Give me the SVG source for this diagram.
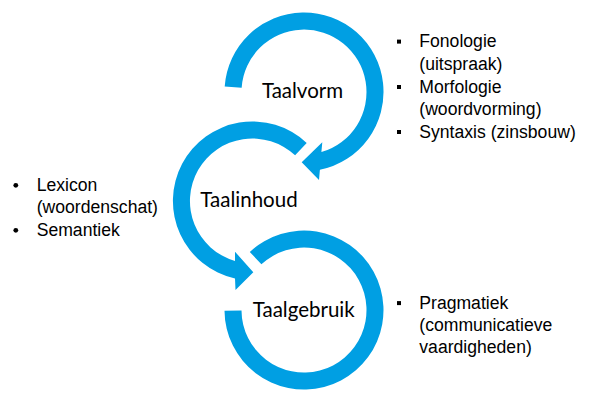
<svg xmlns="http://www.w3.org/2000/svg" width="594" height="403" viewBox="0 0 594 403">
<style>
.arc{fill:#009FE3;stroke:none}
.lbl{font-family:Lato,"Open Sans",sans-serif;font-size:20.5px;fill:#000;text-anchor:middle}
.txt{font-family:"Liberation Sans",Arial,sans-serif;font-size:17.6px;fill:#000}
.sq{fill:#000}
</style>
<rect width="594" height="403" fill="#fff"/>
<g id="taalvorm">
<path class="arc" d="M224.7,86.5 A79.5,79.5 0 1 1 319.9,169.8 L319,180 L301.7,162.3 L322.3,142.3 L321.4,152.1 A62.5,62.5 0 1 0 241.65,87.64 Z"/>
<text class="lbl" x="302.5" y="98.3">Taalvorm</text>
</g>
<g id="taalinhoud">
<path class="arc" d="M306.7,142.9 A79.5,79.5 0 1 0 235,278.55 L235.5,290 L253.3,272.3 L235,251.7 L235,261 A62.5,62.5 0 1 1 295.1,155.3 Z"/>
<text class="lbl" x="249" y="207.3">Taalinhoud</text>
</g>
<g id="taalgebruik">
<path class="arc" d="M249.8,251.9 A79.5,79.5 0 1 1 224.5,310.8 L241.5,310.6 A62.5,62.5 0 1 0 261.4,264.3 Z"/>
<text class="lbl" x="303.7" y="316.7">Taalgebruik</text>
</g>
<g id="list-vorm">
<rect class="sq" x="397" y="39.6" width="4" height="4"/>
<rect class="sq" x="397" y="85" width="4" height="4"/>
<rect class="sq" x="397" y="130" width="4" height="4"/>
<text class="txt" x="419.3" y="47.3">Fonologie</text>
<text class="txt" x="419.3" y="69.8">(uitspraak)</text>
<text class="txt" x="419.3" y="92.7">Morfologie</text>
<text class="txt" x="419.3" y="115">(woordvorming)</text>
<text class="txt" x="419.3" y="137.7">Syntaxis (zinsbouw)</text>
</g>
<g id="list-inhoud">
<circle class="sq" cx="15.8" cy="185.3" r="2.4"/>
<circle class="sq" cx="15.8" cy="230.3" r="2.4"/>
<text class="txt" x="36.7" y="190.5">Lexicon</text>
<text class="txt" x="36.7" y="212.5">(woordenschat)</text>
<text class="txt" x="36.7" y="235.5">Semantiek</text>
</g>
<g id="list-gebruik">
<rect class="sq" x="397" y="301.1" width="4" height="4"/>
<text class="txt" x="419.3" y="308.5">Pragmatiek</text>
<text class="txt" x="419.3" y="330.5">(communicatieve</text>
<text class="txt" x="419.3" y="352.5">vaardigheden)</text>
</g>
</svg>
